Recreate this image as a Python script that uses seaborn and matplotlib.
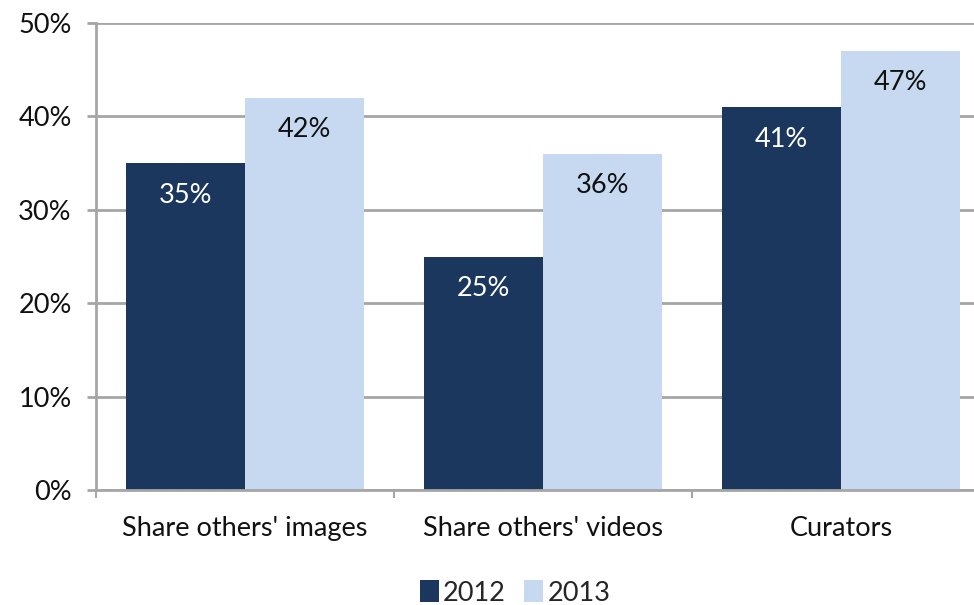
import matplotlib
matplotlib.use("Agg")
import matplotlib.pyplot as plt
import seaborn as sns
import pandas as pd
from matplotlib.ticker import FixedLocator, PercentFormatter, NullFormatter
from matplotlib.patches import Patch

categories = ["Share others' images", "Share others' videos", "Curators"]
years = ["2012", "2013"]
values_2012 = [35, 25, 41]
values_2013 = [42, 36, 47]
y_ticks = [0, 10, 20, 30, 40, 50]

dark = "#1b375e"
light = "#c6d9f0"
grid_col = "#a6a6a6"
text_col = "#111111"
fs = 19.5

df = pd.DataFrame({
    "category": categories * 2,
    "year": [years[0]] * 3 + [years[1]] * 3,
    "value": values_2012 + values_2013,
})

sns.set_theme(style="white")
plt.rcParams["font.family"] = ["Lato", "DejaVu Sans"]

fig = plt.figure(figsize=(9.74, 6.05), dpi=100)
ax = fig.add_axes([96 / 974, 115 / 605, 894 / 974, 467 / 605])

sns.barplot(data=df, x="category", y="value", hue="year", order=categories,
            hue_order=years, palette=[dark, light], width=0.8, saturation=1,
            linewidth=0, ax=ax, legend=False)

ax.set_xlim(-0.5, 2.5)
ax.set_ylim(0, 50)
ax.set_xlabel("")
ax.set_ylabel("")

ax.yaxis.set_major_locator(FixedLocator(y_ticks))
ax.yaxis.set_major_formatter(PercentFormatter(decimals=0))
ax.grid(axis="y", color=grid_col, linewidth=2)
ax.set_axisbelow(True)

# category labels centred, tick marks at group boundaries
ax.set_xticks(range(len(categories)))
ax.set_xticklabels(categories)
ax.tick_params(axis="x", which="major", length=0, pad=19, labelsize=fs,
               labelcolor=text_col)
ax.set_xticks([-0.5, 0.5, 1.5, 2.5], minor=True)
ax.xaxis.set_minor_formatter(NullFormatter())
ax.tick_params(axis="x", which="minor", length=6, width=1.5, color=grid_col,
               direction="out", bottom=True)
ax.tick_params(axis="y", length=6.5, width=2, color=grid_col, direction="out",
               left=True, pad=11, labelsize=fs, labelcolor=text_col)

for side in ["top", "right"]:
    ax.spines[side].set_visible(False)
for side in ["left", "bottom"]:
    ax.spines[side].set_color(grid_col)
    ax.spines[side].set_linewidth(2)

# value labels just inside the top of each bar
for container, col in zip(ax.containers, ["white", text_col]):
    for bar in container:
        h = bar.get_height()
        ax.annotate(f"{h:.0f}%", (bar.get_x() + bar.get_width() / 2, h),
                    xytext=(0, -23), textcoords="offset points",
                    ha="center", va="center", fontsize=fs, color=col)

handles = [Patch(facecolor=dark, edgecolor="none"),
           Patch(facecolor=light, edgecolor="none")]
fig.legend(handles, years, loc="center", bbox_to_anchor=(515 / 974, 1 - 593 / 605),
           ncol=2, frameon=False, fontsize=fs, handlelength=0.7,
           handleheight=0.85, handletextpad=0.15, columnspacing=0.7)

fig.savefig("out.png", dpi=100)
